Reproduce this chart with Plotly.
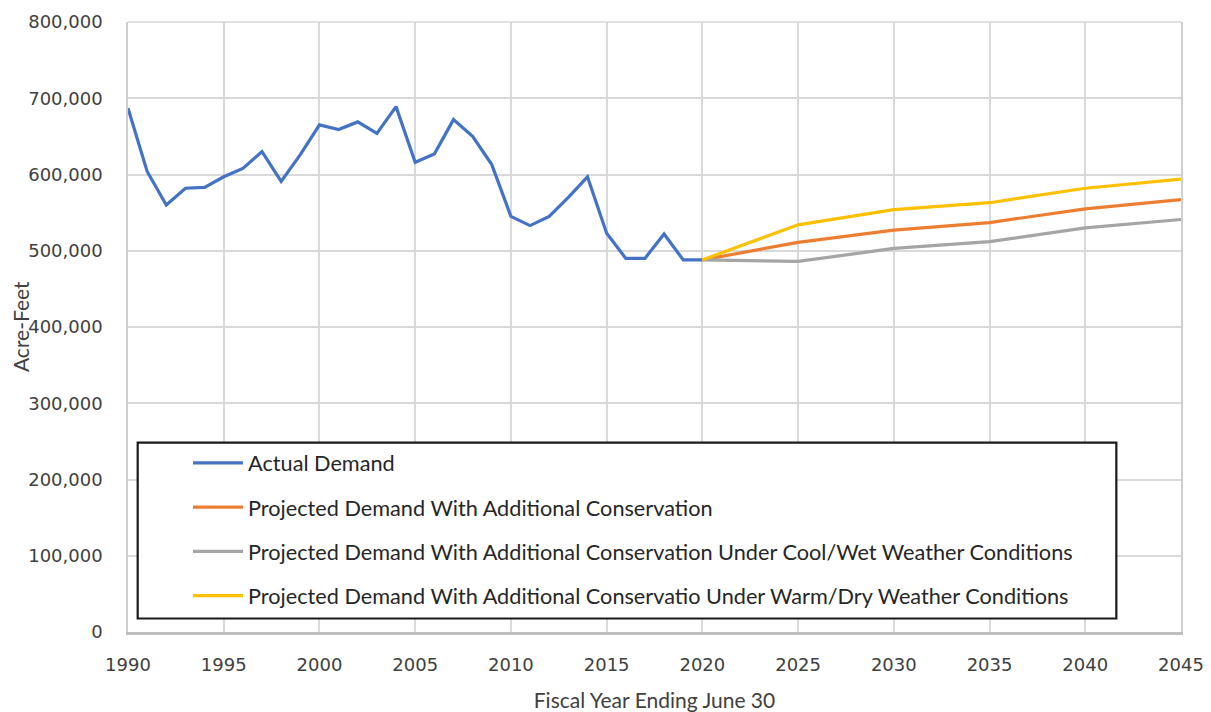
import plotly.graph_objects as go

# Actual demand (fiscal years 1990-2020)
actual_years = list(range(1990, 2021))
actual_demand = [687000, 604000, 560000, 582000, 583000, 597000, 608000, 630000, 591000, 626000,
                 665000, 659000, 669000, 654000, 689000, 616000, 627000, 672000, 650000, 613000,
                 545000, 533000, 545000, 570000, 597000, 523000, 490000, 490000, 522000, 488000,
                 488000]

# Projections
proj_years = [2020, 2025, 2030, 2035, 2040, 2045]
proj_conservation = [488000, 511000, 527000, 537000, 555000, 567000]
proj_cool_wet = [488000, 486000, 503000, 512000, 530000, 541000]
proj_warm_dry = [488000, 534000, 554000, 563000, 582000, 594000]

names = [
    "Actual Demand",
    "Projected Demand With Additional Conservation",
    "Projected Demand With Additional Conservation Under Cool/Wet Weather Conditions",
    "Projected Demand With Additional Conservatio Under Warm/Dry Weather Conditions",
]
colors = ["#4472C4", "#ED7D31", "#A5A5A5", "#FFC000"]

fig = go.Figure()
series = [
    (actual_years, actual_demand),
    (proj_years, proj_conservation),
    (proj_years, proj_cool_wet),
    (proj_years, proj_warm_dry),
]
for i, (xs, ys) in enumerate(series):
    fig.add_trace(go.Scatter(
        x=xs, y=ys, mode="lines", name=names[i], legendgroup=f"g{i}",
        line=dict(color=colors[i], width=3.2),
    ))

fig.update_layout(
    width=1211, height=712,
    margin=dict(l=128, r=30, t=22, b=80, autoexpand=False),
    paper_bgcolor="white", plot_bgcolor="white",
    font=dict(family="DejaVu Sans", color="#404040"),
    showlegend=True,
    legend=dict(
        x=0.057, y=0.311, xanchor="left", yanchor="top",
        bgcolor="rgba(255,255,255,0)", borderwidth=0,
        font=dict(family="Lato", size=21.7, color="#262626"),
        tracegroupgap=13, traceorder="grouped", itemwidth=50,
    ),
    xaxis=dict(
        range=[1990, 2045], dtick=5, tick0=1990, automargin=False,
        showgrid=True, gridcolor="#d9d9d9", gridwidth=1.5,
        showline=True, linecolor="#bfbfbf", linewidth=3,
        zeroline=False, ticks="", ticklabelstandoff=14,
        tickfont=dict(family="DejaVu Sans", size=18, color="#404040"),
        title=dict(text="Fiscal Year Ending June 30", standoff=20,
                   font=dict(family="Lato", size=21, color="#404040")),
    ),
    yaxis=dict(
        range=[0, 800000], dtick=100000, tickformat=",", automargin=False,
        showgrid=True, gridcolor="#d9d9d9", gridwidth=1.5,
        showline=True, linecolor="#cfcfcf", linewidth=1.5, mirror=True,
        zeroline=False, ticks="", ticklabelstandoff=20,
        tickfont=dict(family="DejaVu Sans", size=18, color="#404040"),
    ),
    annotations=[
        dict(text="Acre-Feet", textangle=-90, xref="paper", yref="paper",
             x=-0.1025, y=0.5, xanchor="center", yanchor="middle", showarrow=False,
             font=dict(family="Lato", size=21, color="#404040")),
    ],
    shapes=[
        dict(type="rect", xref="paper", yref="paper",
             x0=0.0092, x1=0.9386, y0=0.0221, y1=0.3104,
             line=dict(color="#1a1a1a", width=2.2), fillcolor="white", layer="above"),
        dict(type="line", xref="paper", yref="paper", x0=0, x1=1, y0=1, y1=1,
             line=dict(color="#d9d9d9", width=1.5), layer="below"),
    ],
)

fig.write_html("out.html", config={"displayModeBar": False},
               post_script="document.body.style.margin='0';document.body.style.overflow='hidden';")
